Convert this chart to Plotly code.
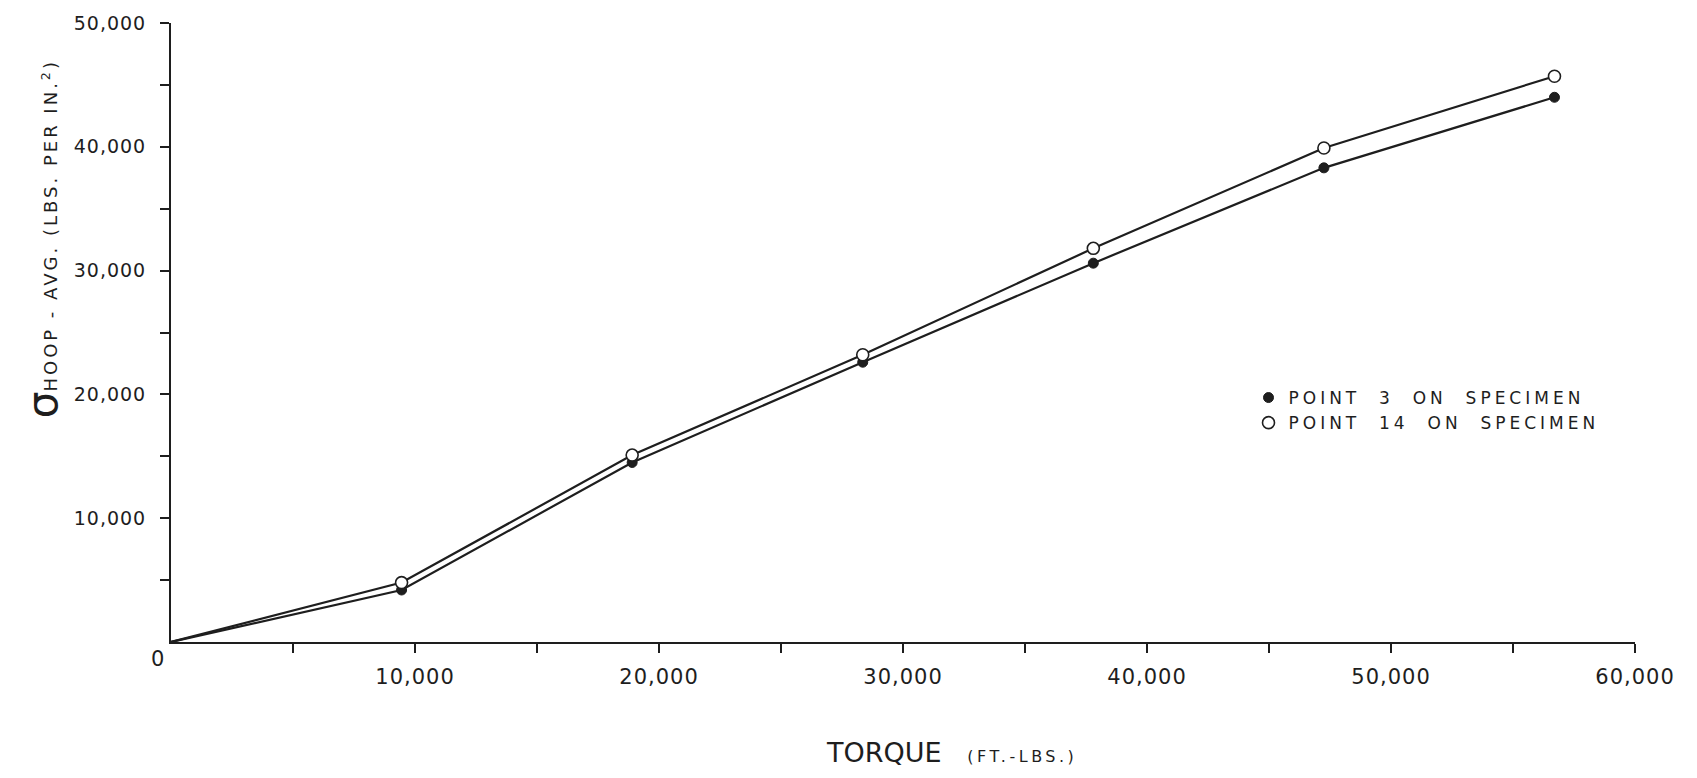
import plotly.graph_objects as go

# Torque steps (ft-lbs) and average hoop stress (lbs per sq in)
torque = [0, 9450, 18900, 28350, 37800, 47250, 56700]
hoop_point3 = [0, 4200, 14500, 22600, 30600, 38300, 44000]
hoop_point14 = [0, 4800, 15100, 23200, 31800, 39900, 45700]

series_names = ["POINT  3  ON  SPECIMEN", "POINT  14  ON  SPECIMEN"]

x_tick_vals = [5000 * i for i in range(1, 13)]
y_tick_vals = [5000 * i for i in range(1, 11)]


def spaced(text, px):
    """Wrap text in a span with extra letter spacing."""
    return f"<span style='letter-spacing:{px}px'>{text}</span>"


# only every second tick carries a label
x_tick_text = [spaced(f"{v:,}", 1) if v % 10000 == 0 else " " for v in x_tick_vals]
y_tick_text = [spaced(f"{v:,}", 1) if v % 10000 == 0 else " " for v in y_tick_vals]

INK = "#1e1e1e"
FONT = "DejaVu Sans"

fig = go.Figure()

# connecting lines, starting at the origin
for ys in (hoop_point3, hoop_point14):
    fig.add_trace(go.Scatter(
        x=torque, y=ys, mode="lines",
        line=dict(color=INK, width=2.2),
        showlegend=False, hoverinfo="skip",
    ))

# measured points (origin not marked)
fig.add_trace(go.Scatter(
    x=torque[1:], y=hoop_point3[1:], mode="markers",
    name=spaced(series_names[0], 4),
    marker=dict(symbol="circle", size=10, color=INK,
                line=dict(color=INK, width=1)),
))
fig.add_trace(go.Scatter(
    x=torque[1:], y=hoop_point14[1:], mode="markers",
    name=spaced(series_names[1], 4),
    marker=dict(symbol="circle", size=12, color="white",
                line=dict(color=INK, width=1.6)),
))

fig.update_layout(
    width=1697, height=778,
    margin=dict(l=171, r=62, t=18, b=136),
    paper_bgcolor="white", plot_bgcolor="white",
    font=dict(family=FONT, color=INK, size=18),
    legend=dict(
        x=0.736, y=0.374, xanchor="left", yanchor="middle",
        font=dict(family=FONT, size=17, color=INK),
        bgcolor="rgba(0,0,0,0)", tracegroupgap=0,
        itemwidth=30,
    ),
    xaxis=dict(
        range=[0, 60000], showgrid=False, zeroline=False,
        showline=True, linecolor=INK, linewidth=2,
        tickmode="array", tickvals=x_tick_vals, ticktext=x_tick_text,
        ticks="outside", ticklen=9, tickwidth=2, tickcolor=INK,
        tickfont=dict(family=FONT, size=21, color=INK),
        ticklabelstandoff=6,
    ),
    yaxis=dict(
        range=[0, 50000], showgrid=False, zeroline=False,
        showline=True, linecolor=INK, linewidth=2,
        tickmode="array", tickvals=y_tick_vals, ticktext=y_tick_text,
        ticks="outside", ticklen=9, tickwidth=2, tickcolor=INK,
        tickfont=dict(family=FONT, size=19, color=INK),
        ticklabelstandoff=10,
    ),
    annotations=[
        # shared origin label
        dict(x=0, y=0, xref="x", yref="y", text="0", showarrow=False,
             xshift=-14, yshift=-17, font=dict(family=FONT, size=21, color=INK)),
        # x-axis title
        dict(x=0.533, y=-0.178, xref="paper", yref="paper",
             text="TORQUE   " + "<span style='font-size:16px;letter-spacing:3.5px'>(FT.-LBS.)</span>",
             showarrow=False, xanchor="center", yanchor="middle",
             font=dict(family=FONT, size=27, color=INK)),
        # y-axis title
        dict(x=-0.088, y=0.651, xref="paper", yref="paper",
             text="<span style='font-size:42px'>σ</span>"
                  + spaced("HOOP - AVG. (LBS. PER IN.<sup>2</sup>)", 3),
             showarrow=False, textangle=-90, xanchor="center", yanchor="middle",
             font=dict(family=FONT, size=18, color=INK)),
    ],
)

fig.write_html("out.html")
